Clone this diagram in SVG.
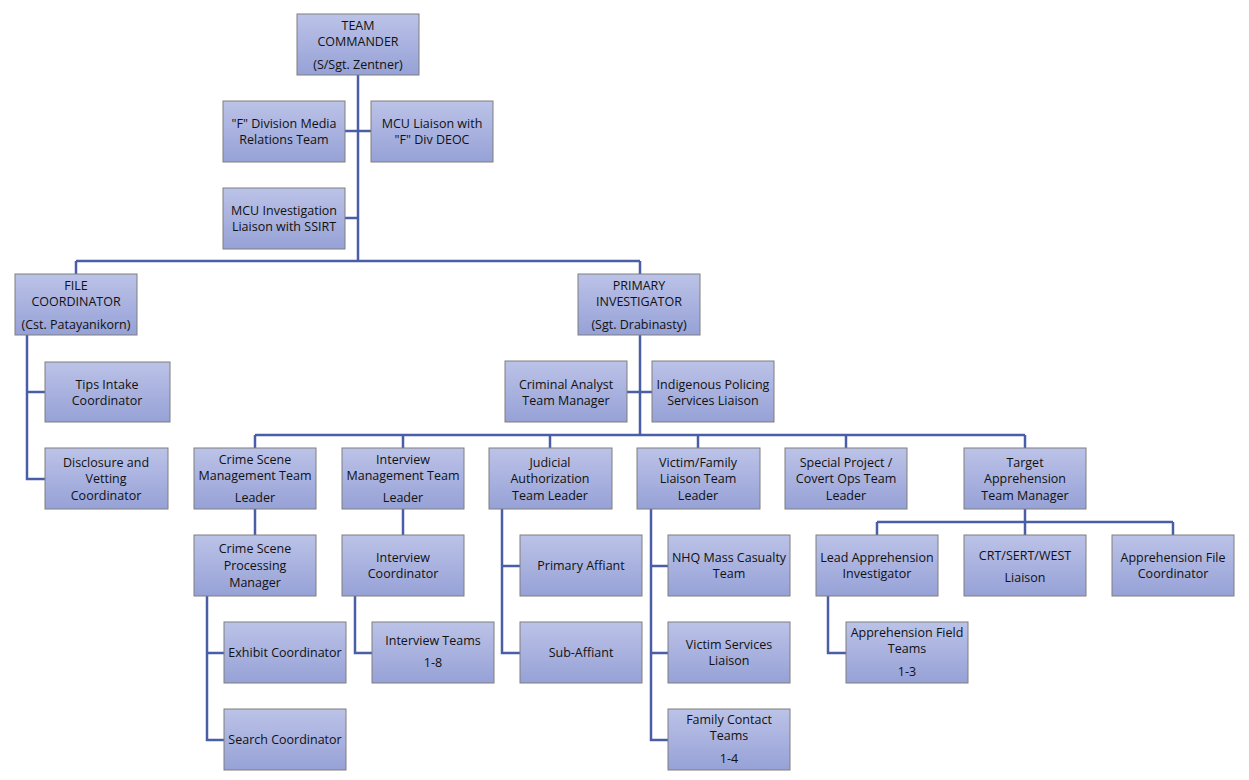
<svg xmlns="http://www.w3.org/2000/svg" width="1249" height="780" viewBox="0 0 1249 780">
<defs><linearGradient id="g" x1="0" y1="0" x2="0" y2="1"><stop offset="0" stop-color="#bcc3e8"/><stop offset="1" stop-color="#96a1d6"/></linearGradient></defs>
<style>
.b{fill:url(#g);stroke:#7f7f7f;stroke-width:1}
text{font-family:"Open Sans","Liberation Sans",sans-serif;font-size:12.5px;fill:#111;text-anchor:middle}
.c{fill:none;stroke:#4a5ea8;stroke-width:2.5}
</style>
<rect width="1249" height="780" fill="#fff"/>
<g id="connectors" class="c">
<path d="M358 75V261M76 261H640M76 261V274M640 261V274M345 131H371M345 218H358"/>
<path d="M27 335V479H45M27 392H45"/>
<path d="M640 335V435M627 392H652M255 435H1025M255 435V448M403 435V448M550 435V448M698 435V448M846 435V448M1025 435V448"/>
<path d="M255 509V535M207 596V740H224M207 653H224"/>
<path d="M403 509V535M355 596V653H372"/>
<path d="M502 509V653H520M502 566H520"/>
<path d="M651 509V740H668M651 566H668M651 653H668"/>
<path d="M1025 509V522M877 522H1173M877 522V535M1025 522V535M1173 522V535M828 596V653H846"/>
</g>
<g id="n1"><rect class="b" x="297" y="14" width="122" height="61"/><text x="358" y="30">TEAM</text><text x="358" y="46">COMMANDER</text><text x="358" y="69">(S/Sgt. Zentner)</text></g>
<g id="n2"><rect class="b" x="223" y="101" width="122" height="61"/><text x="284" y="128">"F" Division Media</text><text x="284" y="144">Relations Team</text></g>
<g id="n3"><rect class="b" x="371" y="101" width="122" height="61"/><text x="432" y="128">MCU Liaison with</text><text x="432" y="144">"F" Div DEOC</text></g>
<g id="n4"><rect class="b" x="223" y="188" width="122" height="61"/><text x="284" y="215">MCU Investigation</text><text x="284" y="231">Liaison with SSIRT</text></g>
<g id="n5"><rect class="b" x="15" y="274" width="122" height="61"/><text x="76" y="290">FILE</text><text x="76" y="306">COORDINATOR</text><text x="76" y="329">(Cst. Patayanikorn)</text></g>
<g id="n6"><rect class="b" x="578" y="274" width="122" height="61"/><text x="639" y="290">PRIMARY</text><text x="639" y="306">INVESTIGATOR</text><text x="639" y="329">(Sgt. Drabinasty)</text></g>
<g id="n7"><rect class="b" x="45" y="362" width="125" height="60"/><text x="107" y="389">Tips Intake</text><text x="107" y="405">Coordinator</text></g>
<g id="n8"><rect class="b" x="45" y="448" width="123" height="61"/><text x="106" y="467">Disclosure and</text><text x="106" y="483">Vetting</text><text x="106" y="500">Coordinator</text></g>
<g id="n9"><rect class="b" x="505" y="361" width="122" height="61"/><text x="566" y="389">Criminal Analyst</text><text x="566" y="405">Team Manager</text></g>
<g id="n10"><rect class="b" x="652" y="361" width="122" height="61"/><text x="713" y="389">Indigenous Policing</text><text x="713" y="405">Services Liaison</text></g>
<g id="n11"><rect class="b" x="194" y="448" width="122" height="61"/><text x="255" y="464">Crime Scene</text><text x="255" y="480">Management Team</text><text x="255" y="502">Leader</text></g>
<g id="n12"><rect class="b" x="342" y="448" width="122" height="61"/><text x="403" y="464">Interview</text><text x="403" y="480">Management Team</text><text x="403" y="502">Leader</text></g>
<g id="n13"><rect class="b" x="489" y="448" width="123" height="61"/><text x="550" y="467">Judicial</text><text x="550" y="483">Authorization</text><text x="550" y="500">Team Leader</text></g>
<g id="n14"><rect class="b" x="637" y="448" width="123" height="61"/><text x="698" y="467">Victim/Family</text><text x="698" y="483">Liaison Team</text><text x="698" y="500">Leader</text></g>
<g id="n15"><rect class="b" x="785" y="448" width="122" height="61"/><text x="846" y="467">Special Project /</text><text x="846" y="483">Covert Ops Team</text><text x="846" y="500">Leader</text></g>
<g id="n16"><rect class="b" x="964" y="448" width="122" height="61"/><text x="1025" y="467">Target</text><text x="1025" y="483">Apprehension</text><text x="1025" y="500">Team Manager</text></g>
<g id="n17"><rect class="b" x="194" y="535" width="122" height="61"/><text x="255" y="553">Crime Scene</text><text x="255" y="570">Processing</text><text x="255" y="587">Manager</text></g>
<g id="n18"><rect class="b" x="342" y="535" width="122" height="61"/><text x="403" y="562">Interview</text><text x="403" y="578">Coordinator</text></g>
<g id="n19"><rect class="b" x="520" y="535" width="122" height="61"/><text x="581" y="570">Primary Affiant</text></g>
<g id="n20"><rect class="b" x="668" y="535" width="122" height="61"/><text x="729" y="562">NHQ Mass Casualty</text><text x="729" y="578">Team</text></g>
<g id="n21"><rect class="b" x="816" y="535" width="122" height="61"/><text x="877" y="562">Lead Apprehension</text><text x="877" y="578">Investigator</text></g>
<g id="n22"><rect class="b" x="964" y="535" width="122" height="61"/><text x="1025" y="560">CRT/SERT/WEST</text><text x="1025" y="582">Liaison</text></g>
<g id="n23"><rect class="b" x="1112" y="535" width="122" height="61"/><text x="1173" y="562">Apprehension File</text><text x="1173" y="578">Coordinator</text></g>
<g id="n24"><rect class="b" x="224" y="622" width="122" height="61"/><text x="285" y="657">Exhibit Coordinator</text></g>
<g id="n25"><rect class="b" x="372" y="622" width="122" height="61"/><text x="433" y="645">Interview Teams</text><text x="433" y="667">1-8</text></g>
<g id="n26"><rect class="b" x="520" y="622" width="122" height="61"/><text x="581" y="657">Sub-Affiant</text></g>
<g id="n27"><rect class="b" x="668" y="622" width="122" height="61"/><text x="729" y="649">Victim Services</text><text x="729" y="665">Liaison</text></g>
<g id="n28"><rect class="b" x="846" y="622" width="122" height="61"/><text x="907" y="637">Apprehension Field</text><text x="907" y="653">Teams</text><text x="907" y="676">1-3</text></g>
<g id="n29"><rect class="b" x="224" y="709" width="122" height="61"/><text x="285" y="744">Search Coordinator</text></g>
<g id="n30"><rect class="b" x="668" y="709" width="122" height="61"/><text x="729" y="724">Family Contact</text><text x="729" y="740">Teams</text><text x="729" y="763">1-4</text></g>
</svg>
